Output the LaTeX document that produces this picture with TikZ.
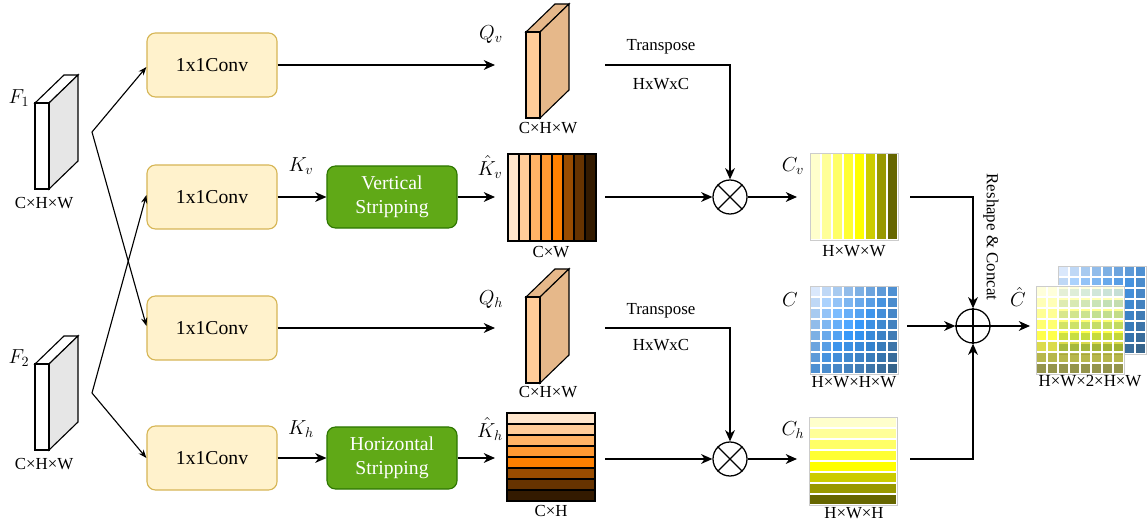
\documentclass[tikz,border=0pt]{standalone}
\usepackage{fontspec}
\setmainfont{Liberation Serif}
\usepackage{amsmath}
\usetikzlibrary{arrows.meta, calc}

\definecolor{convfill}{HTML}{FFF2CC}
\definecolor{convline}{HTML}{D6B656}
\definecolor{stripfill}{HTML}{60A917}
\definecolor{stripline}{HTML}{2D7600}
\definecolor{qfront}{HTML}{FFCC99}
\definecolor{qside}{HTML}{E6B88A}
\definecolor{fside}{HTML}{E6E6E6}
\definecolor{or1}{HTML}{FFE6CC}
\definecolor{or2}{HTML}{FFCC99}
\definecolor{or3}{HTML}{FFB366}
\definecolor{or4}{HTML}{FF9933}
\definecolor{or5}{HTML}{FF8000}
\definecolor{or6}{HTML}{994C00}
\definecolor{or7}{HTML}{663300}
\definecolor{or8}{HTML}{331A00}
\definecolor{ye1}{HTML}{FFFFCC}
\definecolor{ye2}{HTML}{FFFF99}
\definecolor{ye3}{HTML}{FFFF66}
\definecolor{ye4}{HTML}{FFFF33}
\definecolor{ye5}{HTML}{FFFF00}
\definecolor{ye6}{HTML}{CCCC00}
\definecolor{ye7}{HTML}{999900}
\definecolor{ye8}{HTML}{666600}
\definecolor{bluelight}{HTML}{DAE8FC}
\definecolor{bluemid}{HTML}{3399FF}
\definecolor{bluedark}{HTML}{36648B}

\tikzset{
  conv/.style={draw=convline, fill=convfill, rounded corners=6pt, line width=0.8pt,
    minimum width=3.25cm, minimum height=1.6cm, font=\fontsize{14}{16}\selectfont},
  stripbox/.style={draw=stripline, fill=stripfill, text=white, rounded corners=6pt, line width=0.8pt,
    minimum width=3.25cm, minimum height=1.55cm, align=center, font=\fontsize{14}{17}\selectfont},
  flow/.style={-{Stealth[length=8pt, width=7pt, inset=2.5pt]}, line width=0.9pt},
  fork/.style={-{Stealth[length=6pt, width=4.5pt, inset=2pt]}, line width=0.8pt},
  dimlabel/.style={font=\fontsize{12}{14}\selectfont, inner sep=1pt},
  symlabel/.style={font=\fontsize{14}{16}\selectfont, inner sep=1pt},
  oper/.style={circle, draw, line width=0.9pt, minimum size=0.85cm, inner sep=0pt}
}

% thin block: x left, y top, front fill, side fill, top fill
\newcommand{\slab}[5]{%
  \filldraw[fill=#5, line width=0.8pt] (#1,#2) -- ++(14,0) -- ++(29,-28) -- ++(-14,0) -- cycle;
  \filldraw[fill=#4, line width=0.8pt] (#1+14,#2) -- ++(29,-28) -- ++(0,86) -- ++(-29,28) -- cycle;
  \filldraw[fill=#3, line width=0.8pt] (#1,#2) rectangle ++(14,86);
}

% 8x8 blue grid: x left, y top
\newcommand{\bluegrid}[2]{%
  \foreach \r in {0,...,7}{
    \foreach \c in {0,...,7}{
      \pgfmathtruncatemacro\t{(\r+\c)*100/14}
      \pgfmathtruncatemacro\g{abs(\r-\c)*5}
      \ifnum\t<50
        \pgfmathtruncatemacro\p{100-2*\t}\colorlet{tmpc}{bluelight!\p!bluemid}
      \else
        \pgfmathtruncatemacro\p{200-2*\t}\colorlet{tmpc}{bluemid!\p!bluedark}
      \fi
      \colorlet{cellc}{gray!\g!tmpc}
      \filldraw[fill=cellc, draw=white, line width=1pt] ({#1+\c*11},{#2+\r*11}) rectangle ++(11,11);
    }
  }
  \draw[black!20, line width=0.6pt] (#1,#2) rectangle ++(88,88);
}

\begin{document}
\begin{tikzpicture}[x=0.025cm, y=-0.025cm]
  \useasboundingbox (0,0) rectangle (1148,523);

  % inputs
  \slab{35}{103}{white}{fside}{white}
  \slab{35}{364}{white}{fside}{white}
  \node[symlabel] (f1) at (19,98) {$F_1$};
  \node[symlabel] (f2) at (19,358) {$F_2$};
  \node[dimlabel] (f1dim) at (44,203) {C×H×W};
  \node[dimlabel] (f2dim) at (44,464) {C×H×W};
  \coordinate (j1) at (92,132);
  \coordinate (j2) at (92,393);

  % 1x1 convolutions and stripping
  \node[conv] (conv1) at (212,65) {1x1Conv};
  \node[conv] (conv2) at (212,197) {1x1Conv};
  \node[conv] (conv3) at (212,328) {1x1Conv};
  \node[conv] (conv4) at (212,458) {1x1Conv};
  \node[stripbox] (vstrip) at (392,197) {Vertical\\Stripping};
  \node[stripbox] (hstrip) at (392,458) {Horizontal\\Stripping};

  \draw[fork] (j1) -- ($(conv1.west)+(0,2)$);
  \draw[fork] (j1) -- ($(conv3.west)+(0,-2)$);
  \draw[fork] (j2) -- ($(conv2.west)+(0,-2)$);
  \draw[fork] (j2) -- ($(conv4.west)+(0,0)$);

  \node[symlabel] (kv) at (301,166) {$K_v$};
  \node[symlabel] (kh) at (301,429) {$K_h$};
  \draw[flow] (conv2) -- (vstrip);
  \draw[flow] (conv4) -- (hstrip);

  % queries
  \coordinate (qvin) at (495,65);
  \coordinate (qhin) at (495,328);
  \draw[flow] (conv1) -- (qvin);
  \draw[flow] (conv3) -- (qhin);
  \slab{526}{32}{qfront}{qside}{qside}
  \slab{526}{297}{qfront}{qside}{qside}
  \node[symlabel] (qv) at (491,35) {$Q_v$};
  \node[symlabel] (qh) at (491,300) {$Q_h$};
  \node[dimlabel] (qvdim) at (548,128) {C×H×W};
  \node[dimlabel] (qhdim) at (548,392) {C×H×W};

  % stripped keys
  \coordinate (kvin) at (495,197);
  \coordinate (khin) at (495,458);
  \draw[flow] (vstrip) -- (kvin);
  \draw[flow] (hstrip) -- (khin);
  \foreach \i in {1,...,8}
    \filldraw[fill=or\i, line width=0.8pt] ({508+(\i-1)*11},154) rectangle ++(11,87);
  \foreach \i in {1,...,8}
    \filldraw[fill=or\i, line width=0.8pt] (507,{413+(\i-1)*11}) rectangle ++(88,11);
  \node[symlabel] (kvhat) at (490,167) {$\hat{K}_v$};
  \node[symlabel] (khhat) at (490,429) {$\hat{K}_h$};
  \node[dimlabel] (kvdim) at (551,252) {C×W};
  \node[dimlabel] (khdim) at (551,511) {C×H};

  % products
  \node[oper] (mulv) at (730,197) {};
  \node[oper] (mulh) at (730,459) {};
  \foreach \m in {mulv, mulh}{
    \draw[line width=0.9pt] (\m.north west) -- (\m.south east);
    \draw[line width=0.9pt] (\m.north east) -- (\m.south west);
  }
  \coordinate (kvout) at (605,197);
  \coordinate (khout) at (605,459);
  \coordinate (qvout) at (605,65);
  \coordinate (qhout) at (605,328);
  \draw[flow] (kvout) -- (mulv);
  \draw[flow] (khout) -- (mulh);
  \draw[flow] (qvout) -| (mulv);
  \draw[flow] (qhout) -| (mulh);
  \node[dimlabel] (tv) at (661,47) {Transpose};
  \node[dimlabel] (tvdim) at (661,84) {HxWxC};
  \node[dimlabel] (th) at (661,311) {Transpose};
  \node[dimlabel] (thdim) at (661,345) {HxWxC};

  % affinity maps
  \coordinate (cvin) at (797,197);
  \coordinate (chin) at (797,459);
  \draw[flow] (mulv) -- (cvin);
  \draw[flow] (mulh) -- (chin);
  \foreach \i in {1,...,8}
    \filldraw[fill=ye\i, draw=white, line width=1pt] ({810+(\i-1)*11},153) rectangle ++(11,87);
  \draw[black!20, line width=0.6pt] (810,153) rectangle ++(88,87);
  \foreach \i in {1,...,8}
    \filldraw[fill=ye\i, draw=white, line width=1pt] (809,{417+(\i-1)*11}) rectangle ++(88,11);
  \draw[black!20, line width=0.6pt] (809,417) rectangle ++(88,88);
  \bluegrid{810}{286}
  \node[symlabel] (cv) at (793,166) {$C_v$};
  \node[symlabel] (ch) at (793,430) {$C_h$};
  \node[symlabel] (cc) at (790,300) {$C$};
  \node[dimlabel] (cvdim) at (854,251) {H×W×W};
  \node[dimlabel] (ccdim) at (854,382) {H×W×H×W};
  \node[dimlabel] (chdim) at (854,513) {H×W×H};

  % concatenation
  \node[oper] (cat) at (973,326) {};
  \draw[line width=0.9pt] (cat.north) -- (cat.south);
  \draw[line width=0.9pt] (cat.west) -- (cat.east);
  \coordinate (cvout) at (910,197);
  \coordinate (chout) at (910,459);
  \coordinate (ccout) at (907,326);
  \draw[flow] (cvout) -| (cat);
  \draw[flow] (chout) -| (cat);
  \draw[flow] (ccout) -- (cat);
  \node[dimlabel, rotate=-90] (reshape) at (991,237) {Reshape \& Concat};

  % output
  \coordinate (outin) at (1030,326);
  \draw[flow] (cat) -- (outin);
  \bluegrid{1058}{266}
  \foreach \r in {0,...,7}{
    \pgfmathtruncatemacro\k{\r+1}
    \foreach \c in {0,...,7}
      \filldraw[fill=ye\k, fill opacity=0.7, draw=white, line width=1pt] ({1036+\c*11},{286+\r*11}) rectangle ++(11,11);
  }
  \draw[black!20, line width=0.6pt] (1036,286) rectangle ++(88,88);
  \node[symlabel] (chat) at (1018,297) {$\hat{C}$};
  \node[dimlabel] (outdim) at (1090,381) {H×W×2×H×W};
\end{tikzpicture}
\end{document}
